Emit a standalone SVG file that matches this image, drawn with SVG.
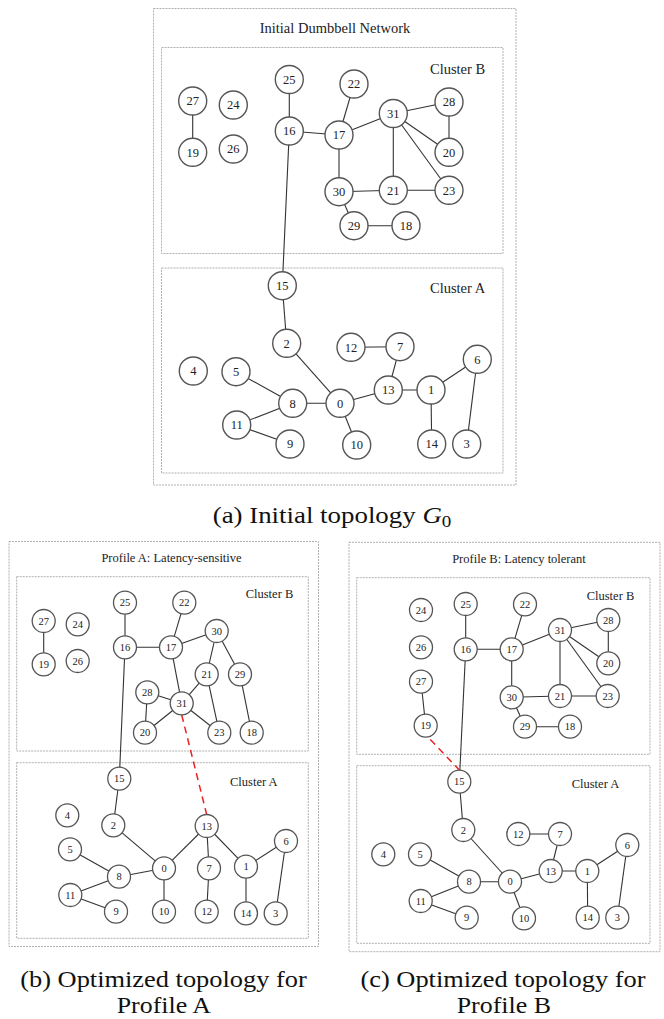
<svg xmlns="http://www.w3.org/2000/svg" width="664" height="1019" viewBox="0 0 664 1019">
<style>
.bg{fill:#ffffff}
.box{fill:none;stroke:#b0b0b0;stroke-width:1;stroke-dasharray:2,1}
.e{stroke:#333;stroke-width:1.1;fill:none}
.red{stroke:#ee2020;stroke-width:1.5;stroke-dasharray:7,5;fill:none}
.nl circle{fill:#fff;stroke:#555;stroke-width:1.4}
.nl text{font-family:"Liberation Serif","Times New Roman",serif;font-size:12.5px;fill:#222;text-anchor:middle}
.ns circle{fill:#fff;stroke:#555;stroke-width:1.3}
.ns text{font-family:"Liberation Serif","Times New Roman",serif;font-size:10.5px;fill:#222;text-anchor:middle}
.t1{font-family:"Liberation Serif","Times New Roman",serif;font-size:14.5px;fill:#222}
.t2{font-family:"Liberation Serif","Times New Roman",serif;font-size:12.5px;fill:#222}
.cap{font-family:"Liberation Serif","Times New Roman",serif;font-size:24px;fill:#111;text-anchor:middle}
</style>
<rect class="bg" x="0" y="0" width="664" height="1019"/>

<!-- ============ Panel (a) ============ -->
<g id="panel-a-frames">
<rect class="box" x="153.5" y="8.5" width="362.5" height="476.5"/>
<rect class="box" x="161.5" y="47.5" width="341.5" height="206"/>
<rect class="box" x="161.5" y="268" width="341.5" height="205"/>
<text class="t1" x="335" y="32.5" text-anchor="middle">Initial Dumbbell Network</text>
<text class="t1" x="430" y="74">Cluster B</text>
<text class="t1" x="430" y="292.7">Cluster A</text>
</g>
<g id="connectors-a">
<line class="e" x1="192.7" y1="101" x2="192.7" y2="152.3"/>
<line class="e" x1="289.3" y1="79.5" x2="289.3" y2="131"/>
<line class="e" x1="289.3" y1="131" x2="339" y2="135"/>
<line class="e" x1="289.3" y1="131" x2="282.3" y2="285.7"/>
<line class="e" x1="354" y1="84" x2="339" y2="135"/>
<line class="e" x1="339" y1="135" x2="393.3" y2="113.5"/>
<line class="e" x1="339" y1="135" x2="339" y2="191.7"/>
<line class="e" x1="393.3" y1="113.5" x2="449" y2="102"/>
<line class="e" x1="449" y1="102" x2="449" y2="152.3"/>
<line class="e" x1="393.3" y1="113.5" x2="449" y2="152.3"/>
<line class="e" x1="393.3" y1="113.5" x2="393.3" y2="190.3"/>
<line class="e" x1="393.3" y1="113.5" x2="449" y2="190.3"/>
<line class="e" x1="339" y1="191.7" x2="393.3" y2="190.3"/>
<line class="e" x1="393.3" y1="190.3" x2="449" y2="190.3"/>
<line class="e" x1="339" y1="191.7" x2="354" y2="225.7"/>
<line class="e" x1="354" y1="225.7" x2="406" y2="225.7"/>
<line class="e" x1="282.3" y1="285.7" x2="286.7" y2="343.3"/>
<line class="e" x1="286.7" y1="343.3" x2="340" y2="403.3"/>
<line class="e" x1="351" y1="347.3" x2="400" y2="346.7"/>
<line class="e" x1="400" y1="346.7" x2="388.3" y2="390"/>
<line class="e" x1="236" y1="371.7" x2="292.7" y2="403.3"/>
<line class="e" x1="292.7" y1="403.3" x2="340" y2="403.3"/>
<line class="e" x1="340" y1="403.3" x2="388.3" y2="390"/>
<line class="e" x1="340" y1="403.3" x2="356.7" y2="445"/>
<line class="e" x1="388.3" y1="390" x2="431" y2="390"/>
<line class="e" x1="431" y1="390" x2="477.3" y2="359.3"/>
<line class="e" x1="477.3" y1="359.3" x2="466.7" y2="444"/>
<line class="e" x1="431" y1="390" x2="431.7" y2="444"/>
<line class="e" x1="292.7" y1="403.3" x2="236.7" y2="425"/>
<line class="e" x1="236.7" y1="425" x2="290" y2="444"/>
</g>
<g class="nl">
<g id="a-n25"><circle cx="289.3" cy="79.5" r="14"/><text x="289.3" y="83.8">25</text></g>
<g id="a-n22"><circle cx="354" cy="84" r="14"/><text x="354" y="88.3">22</text></g>
<g id="a-n27"><circle cx="192.7" cy="101" r="14"/><text x="192.7" y="105.3">27</text></g>
<g id="a-n24"><circle cx="233.3" cy="105" r="14"/><text x="233.3" y="109.3">24</text></g>
<g id="a-n28"><circle cx="449" cy="102" r="14"/><text x="449" y="106.3">28</text></g>
<g id="a-n31"><circle cx="393.3" cy="113.5" r="14"/><text x="393.3" y="117.8">31</text></g>
<g id="a-n16"><circle cx="289.3" cy="131" r="14"/><text x="289.3" y="135.3">16</text></g>
<g id="a-n17"><circle cx="339" cy="135" r="14"/><text x="339" y="139.3">17</text></g>
<g id="a-n19"><circle cx="192.7" cy="152.3" r="14"/><text x="192.7" y="156.6">19</text></g>
<g id="a-n26"><circle cx="233.3" cy="149" r="14"/><text x="233.3" y="153.3">26</text></g>
<g id="a-n20"><circle cx="449" cy="152.3" r="14"/><text x="449" y="156.6">20</text></g>
<g id="a-n30"><circle cx="339" cy="191.7" r="14"/><text x="339" y="196">30</text></g>
<g id="a-n21"><circle cx="393.3" cy="190.3" r="14"/><text x="393.3" y="194.6">21</text></g>
<g id="a-n23"><circle cx="449" cy="190.3" r="14"/><text x="449" y="194.6">23</text></g>
<g id="a-n29"><circle cx="354" cy="225.7" r="14"/><text x="354" y="230">29</text></g>
<g id="a-n18"><circle cx="406" cy="225.7" r="14"/><text x="406" y="230">18</text></g>
<g id="a-n15"><circle cx="282.3" cy="285.7" r="14"/><text x="282.3" y="290">15</text></g>
<g id="a-n2"><circle cx="286.7" cy="343.3" r="14"/><text x="286.7" y="347.6">2</text></g>
<g id="a-n12"><circle cx="351" cy="347.3" r="14"/><text x="351" y="351.6">12</text></g>
<g id="a-n7"><circle cx="400" cy="346.7" r="14"/><text x="400" y="351">7</text></g>
<g id="a-n6"><circle cx="477.3" cy="359.3" r="14"/><text x="477.3" y="363.6">6</text></g>
<g id="a-n4"><circle cx="193.3" cy="371" r="14"/><text x="193.3" y="375.3">4</text></g>
<g id="a-n5"><circle cx="236" cy="371.7" r="14"/><text x="236" y="376">5</text></g>
<g id="a-n13"><circle cx="388.3" cy="390" r="14"/><text x="388.3" y="394.3">13</text></g>
<g id="a-n1"><circle cx="431" cy="390" r="14"/><text x="431" y="394.3">1</text></g>
<g id="a-n8"><circle cx="292.7" cy="403.3" r="14"/><text x="292.7" y="407.6">8</text></g>
<g id="a-n0"><circle cx="340" cy="403.3" r="14"/><text x="340" y="407.6">0</text></g>
<g id="a-n11"><circle cx="236.7" cy="425" r="14"/><text x="236.7" y="429.3">11</text></g>
<g id="a-n9"><circle cx="290" cy="444" r="14"/><text x="290" y="448.3">9</text></g>
<g id="a-n10"><circle cx="356.7" cy="445" r="14"/><text x="356.7" y="449.3">10</text></g>
<g id="a-n14"><circle cx="431.7" cy="444" r="14"/><text x="431.7" y="448.3">14</text></g>
<g id="a-n3"><circle cx="466.7" cy="444" r="14"/><text x="466.7" y="448.3">3</text></g>
</g>
<text class="cap" transform="translate(332,523) scale(1.12,1)" x="0" y="0">(a) Initial topology <tspan font-style="italic">G</tspan><tspan font-size="17" dy="4">0</tspan></text>

<!-- ============ Panel (b) ============ -->
<g id="panel-b-frames">
<rect class="box" x="9" y="541.5" width="309.5" height="405"/>
<rect class="box" x="16.7" y="576.7" width="291.6" height="174.3"/>
<rect class="box" x="16.7" y="762.7" width="291.6" height="175.6"/>
<text class="t2" x="171.5" y="561.7" text-anchor="middle">Profile A: Latency-sensitive</text>
<text class="t2" x="245.7" y="598.3">Cluster B</text>
<text class="t2" x="230" y="785.5">Cluster A</text>
</g>
<g id="connectors-b">
<line class="e" x1="43.7" y1="621" x2="43.7" y2="664.3"/>
<line class="e" x1="125" y1="602.7" x2="125" y2="647.3"/>
<line class="e" x1="125" y1="647.3" x2="171" y2="647.3"/>
<line class="e" x1="125" y1="647.3" x2="119.3" y2="778.7"/>
<line class="e" x1="184.3" y1="602.7" x2="171" y2="647.3"/>
<line class="e" x1="171" y1="647.3" x2="216.7" y2="631"/>
<line class="e" x1="171" y1="647.3" x2="181.7" y2="703.3"/>
<line class="e" x1="216.7" y1="631" x2="206.7" y2="674.3"/>
<line class="e" x1="216.7" y1="631" x2="240" y2="674.3"/>
<line class="e" x1="206.7" y1="674.3" x2="181.7" y2="703.3"/>
<line class="e" x1="206.7" y1="674.3" x2="219.3" y2="732.7"/>
<line class="e" x1="240" y1="674.3" x2="251.7" y2="732.7"/>
<line class="e" x1="147.3" y1="692.3" x2="181.7" y2="703.3"/>
<line class="e" x1="147.3" y1="692.3" x2="145" y2="732.7"/>
<line class="e" x1="181.7" y1="703.3" x2="145" y2="732.7"/>
<line class="e" x1="181.7" y1="703.3" x2="219.3" y2="732.7"/>
<line class="red" x1="181.7" y1="715" x2="206.7" y2="814.5"/>
<line class="e" x1="119.3" y1="778.7" x2="113.3" y2="825.3"/>
<line class="e" x1="113.3" y1="825.3" x2="164" y2="868.3"/>
<line class="e" x1="70" y1="849.3" x2="119" y2="876.7"/>
<line class="e" x1="119" y1="876.7" x2="164" y2="868.3"/>
<line class="e" x1="119" y1="876.7" x2="70.3" y2="895"/>
<line class="e" x1="70.3" y1="895" x2="116" y2="911.7"/>
<line class="e" x1="164" y1="868.3" x2="164" y2="911.7"/>
<line class="e" x1="164" y1="868.3" x2="206.7" y2="826"/>
<line class="e" x1="206.7" y1="826" x2="209" y2="868.3"/>
<line class="e" x1="206.7" y1="826" x2="246" y2="866.7"/>
<line class="e" x1="209" y1="868.3" x2="206.7" y2="911.7"/>
<line class="e" x1="246" y1="866.7" x2="286" y2="841"/>
<line class="e" x1="286" y1="841" x2="275.7" y2="913.3"/>
<line class="e" x1="246" y1="866.7" x2="246" y2="913.3"/>
</g>
<g class="ns">
<g id="b-n25"><circle cx="125" cy="602.7" r="11.5"/><text x="125" y="606.3">25</text></g>
<g id="b-n22"><circle cx="184.3" cy="602.7" r="11.5"/><text x="184.3" y="606.3">22</text></g>
<g id="b-n27"><circle cx="43.7" cy="621" r="11.5"/><text x="43.7" y="624.6">27</text></g>
<g id="b-n24"><circle cx="77.7" cy="624.3" r="11.5"/><text x="77.7" y="627.9">24</text></g>
<g id="b-n30"><circle cx="216.7" cy="631" r="11.5"/><text x="216.7" y="634.6">30</text></g>
<g id="b-n16"><circle cx="125" cy="647.3" r="11.5"/><text x="125" y="650.9">16</text></g>
<g id="b-n17"><circle cx="171" cy="647.3" r="11.5"/><text x="171" y="650.9">17</text></g>
<g id="b-n19"><circle cx="43.7" cy="664.3" r="11.5"/><text x="43.7" y="667.9">19</text></g>
<g id="b-n26"><circle cx="77.7" cy="661" r="11.5"/><text x="77.7" y="664.6">26</text></g>
<g id="b-n21"><circle cx="206.7" cy="674.3" r="11.5"/><text x="206.7" y="677.9">21</text></g>
<g id="b-n29"><circle cx="240" cy="674.3" r="11.5"/><text x="240" y="677.9">29</text></g>
<g id="b-n28"><circle cx="147.3" cy="692.3" r="11.5"/><text x="147.3" y="695.9">28</text></g>
<g id="b-n31"><circle cx="181.7" cy="703.3" r="11.5"/><text x="181.7" y="706.9">31</text></g>
<g id="b-n20"><circle cx="145" cy="732.7" r="11.5"/><text x="145" y="736.3">20</text></g>
<g id="b-n23"><circle cx="219.3" cy="732.7" r="11.5"/><text x="219.3" y="736.3">23</text></g>
<g id="b-n18"><circle cx="251.7" cy="732.7" r="11.5"/><text x="251.7" y="736.3">18</text></g>
<g id="b-n15"><circle cx="119.3" cy="778.7" r="11.5"/><text x="119.3" y="782.3">15</text></g>
<g id="b-n4"><circle cx="67.3" cy="815.3" r="11.5"/><text x="67.3" y="818.9">4</text></g>
<g id="b-n2"><circle cx="113.3" cy="825.3" r="11.5"/><text x="113.3" y="828.9">2</text></g>
<g id="b-n13"><circle cx="206.7" cy="826" r="11.5"/><text x="206.7" y="829.6">13</text></g>
<g id="b-n6"><circle cx="286" cy="841" r="11.5"/><text x="286" y="844.6">6</text></g>
<g id="b-n5"><circle cx="70" cy="849.3" r="11.5"/><text x="70" y="852.9">5</text></g>
<g id="b-n0"><circle cx="164" cy="868.3" r="11.5"/><text x="164" y="871.9">0</text></g>
<g id="b-n7"><circle cx="209" cy="868.3" r="11.5"/><text x="209" y="871.9">7</text></g>
<g id="b-n1"><circle cx="246" cy="866.7" r="11.5"/><text x="246" y="870.3">1</text></g>
<g id="b-n8"><circle cx="119" cy="876.7" r="11.5"/><text x="119" y="880.3">8</text></g>
<g id="b-n11"><circle cx="70.3" cy="895" r="11.5"/><text x="70.3" y="898.6">11</text></g>
<g id="b-n9"><circle cx="116" cy="911.7" r="11.5"/><text x="116" y="915.3">9</text></g>
<g id="b-n10"><circle cx="164" cy="911.7" r="11.5"/><text x="164" y="915.3">10</text></g>
<g id="b-n12"><circle cx="206.7" cy="911.7" r="11.5"/><text x="206.7" y="915.3">12</text></g>
<g id="b-n14"><circle cx="246" cy="913.3" r="11.5"/><text x="246" y="916.9">14</text></g>
<g id="b-n3"><circle cx="275.7" cy="913.3" r="11.5"/><text x="275.7" y="916.9">3</text></g>
</g>
<text class="cap" transform="translate(163.5,986.7) scale(1.1,1)" x="0" y="0">(b) Optimized topology for</text>
<text class="cap" transform="translate(163.8,1013.3) scale(1.08,1)" x="0" y="0">Profile A</text>

<!-- ============ Panel (c) ============ -->
<g id="panel-c-frames">
<rect class="box" x="349" y="542.3" width="311" height="409.4"/>
<rect class="box" x="356.7" y="577.7" width="293.3" height="176.6"/>
<rect class="box" x="356.7" y="765.7" width="293.3" height="177.6"/>
<text class="t2" x="519" y="563.3" text-anchor="middle">Profile B: Latency tolerant</text>
<text class="t2" x="586.7" y="600">Cluster B</text>
<text class="t2" x="571.7" y="788.3">Cluster A</text>
</g>
<g id="connectors-c">
<line class="e" x1="465.7" y1="604" x2="465.7" y2="649.3"/>
<line class="e" x1="465.7" y1="649.3" x2="511.7" y2="649.3"/>
<line class="e" x1="465.7" y1="649.3" x2="459.3" y2="781.7"/>
<line class="e" x1="525" y1="604.3" x2="511.7" y2="649.3"/>
<line class="e" x1="511.7" y1="649.3" x2="560" y2="630"/>
<line class="e" x1="511.7" y1="649.3" x2="511.7" y2="697.3"/>
<line class="e" x1="560" y1="630" x2="608.3" y2="620"/>
<line class="e" x1="608.3" y1="620" x2="608.3" y2="663.3"/>
<line class="e" x1="560" y1="630" x2="608.3" y2="663.3"/>
<line class="e" x1="560" y1="630" x2="560" y2="696"/>
<line class="e" x1="560" y1="630" x2="607.7" y2="696"/>
<line class="e" x1="511.7" y1="697.3" x2="560" y2="696"/>
<line class="e" x1="560" y1="696" x2="607.7" y2="696"/>
<line class="e" x1="511.7" y1="697.3" x2="525" y2="726.7"/>
<line class="e" x1="525" y1="726.7" x2="570" y2="726.7"/>
<line class="e" x1="421" y1="681.7" x2="425.7" y2="725.7"/>
<line class="red" x1="430.3" y1="739.5" x2="459.3" y2="770"/>
<line class="e" x1="459.3" y1="781.7" x2="463.3" y2="830"/>
<line class="e" x1="463.3" y1="830" x2="510" y2="881.7"/>
<line class="e" x1="518.3" y1="834" x2="560" y2="834"/>
<line class="e" x1="560" y1="834" x2="550.7" y2="871"/>
<line class="e" x1="420" y1="854.3" x2="469" y2="881.7"/>
<line class="e" x1="469" y1="881.7" x2="510" y2="881.7"/>
<line class="e" x1="469" y1="881.7" x2="420.7" y2="901"/>
<line class="e" x1="420.7" y1="901" x2="466.7" y2="917.7"/>
<line class="e" x1="510" y1="881.7" x2="550.7" y2="871"/>
<line class="e" x1="510" y1="881.7" x2="524" y2="918.3"/>
<line class="e" x1="550.7" y1="871" x2="587.3" y2="871"/>
<line class="e" x1="587.3" y1="871" x2="627.3" y2="845"/>
<line class="e" x1="627.3" y1="845" x2="617.3" y2="917.7"/>
<line class="e" x1="587.3" y1="871" x2="587.7" y2="917.7"/>
</g>
<g class="ns">
<g id="c-n24"><circle cx="421" cy="610" r="11.5"/><text x="421" y="613.6">24</text></g>
<g id="c-n25"><circle cx="465.7" cy="604" r="11.5"/><text x="465.7" y="607.6">25</text></g>
<g id="c-n22"><circle cx="525" cy="604.3" r="11.5"/><text x="525" y="607.9">22</text></g>
<g id="c-n28"><circle cx="608.3" cy="620" r="11.5"/><text x="608.3" y="623.6">28</text></g>
<g id="c-n31"><circle cx="560" cy="630" r="11.5"/><text x="560" y="633.6">31</text></g>
<g id="c-n26"><circle cx="421" cy="647.3" r="11.5"/><text x="421" y="650.9">26</text></g>
<g id="c-n16"><circle cx="465.7" cy="649.3" r="11.5"/><text x="465.7" y="652.9">16</text></g>
<g id="c-n17"><circle cx="511.7" cy="649.3" r="11.5"/><text x="511.7" y="652.9">17</text></g>
<g id="c-n20"><circle cx="608.3" cy="663.3" r="11.5"/><text x="608.3" y="666.9">20</text></g>
<g id="c-n27"><circle cx="421" cy="681.7" r="11.5"/><text x="421" y="685.3">27</text></g>
<g id="c-n30"><circle cx="511.7" cy="697.3" r="11.5"/><text x="511.7" y="700.9">30</text></g>
<g id="c-n21"><circle cx="560" cy="696" r="11.5"/><text x="560" y="699.6">21</text></g>
<g id="c-n23"><circle cx="607.7" cy="696" r="11.5"/><text x="607.7" y="699.6">23</text></g>
<g id="c-n19"><circle cx="425.7" cy="725.7" r="11.5"/><text x="425.7" y="729.3">19</text></g>
<g id="c-n29"><circle cx="525" cy="726.7" r="11.5"/><text x="525" y="730.3">29</text></g>
<g id="c-n18"><circle cx="570" cy="726.7" r="11.5"/><text x="570" y="730.3">18</text></g>
<g id="c-n15"><circle cx="459.3" cy="781.7" r="11.5"/><text x="459.3" y="785.3">15</text></g>
<g id="c-n2"><circle cx="463.3" cy="830" r="11.5"/><text x="463.3" y="833.6">2</text></g>
<g id="c-n12"><circle cx="518.3" cy="834" r="11.5"/><text x="518.3" y="837.6">12</text></g>
<g id="c-n7"><circle cx="560" cy="834" r="11.5"/><text x="560" y="837.6">7</text></g>
<g id="c-n6"><circle cx="627.3" cy="845" r="11.5"/><text x="627.3" y="848.6">6</text></g>
<g id="c-n4"><circle cx="383.3" cy="854.3" r="11.5"/><text x="383.3" y="857.9">4</text></g>
<g id="c-n5"><circle cx="420" cy="854.3" r="11.5"/><text x="420" y="857.9">5</text></g>
<g id="c-n13"><circle cx="550.7" cy="871" r="11.5"/><text x="550.7" y="874.6">13</text></g>
<g id="c-n1"><circle cx="587.3" cy="871" r="11.5"/><text x="587.3" y="874.6">1</text></g>
<g id="c-n8"><circle cx="469" cy="881.7" r="11.5"/><text x="469" y="885.3">8</text></g>
<g id="c-n0"><circle cx="510" cy="881.7" r="11.5"/><text x="510" y="885.3">0</text></g>
<g id="c-n11"><circle cx="420.7" cy="901" r="11.5"/><text x="420.7" y="904.6">11</text></g>
<g id="c-n9"><circle cx="466.7" cy="917.7" r="11.5"/><text x="466.7" y="921.3">9</text></g>
<g id="c-n10"><circle cx="524" cy="918.3" r="11.5"/><text x="524" y="921.9">10</text></g>
<g id="c-n14"><circle cx="587.7" cy="917.7" r="11.5"/><text x="587.7" y="921.3">14</text></g>
<g id="c-n3"><circle cx="617.3" cy="917.7" r="11.5"/><text x="617.3" y="921.3">3</text></g>
</g>
<text class="cap" transform="translate(503,986.7) scale(1.1,1)" x="0" y="0">(c) Optimized topology for</text>
<text class="cap" transform="translate(503.8,1013.3) scale(1.08,1)" x="0" y="0">Profile B</text>
</svg>
